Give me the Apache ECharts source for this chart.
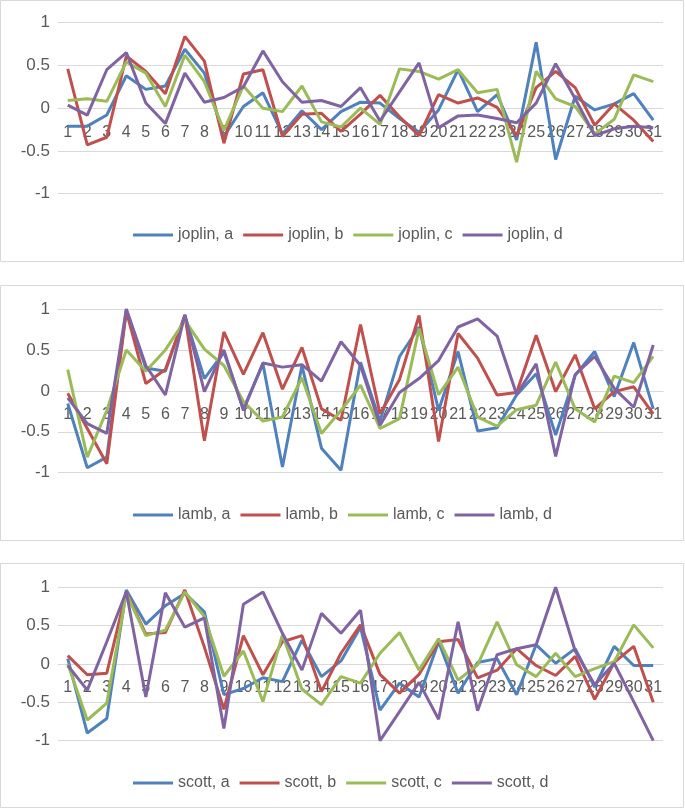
<!DOCTYPE html>
<html>
<head>
<meta charset="utf-8">
<script src="https://cdn.jsdelivr.net/npm/echarts@6/dist/echarts.min.js"></script>
<style>
html,body{margin:0;padding:0;background:#fff;}
#chart{width:685px;height:809px;}
</style>
</head>
<body>
<div id="chart"></div>
<script>
const categories = Array.from({length:31}, (_, i) => String(i + 1));
const yTicks = [-1, -0.5, 0, 0.5, 1];

const joplinA = [-0.21,-0.21,-0.08,0.38,0.22,0.26,0.69,0.41,-0.33,0.02,0.18,-0.30,-0.03,-0.25,-0.04,0.07,0.06,-0.12,-0.28,-0.02,0.45,-0.04,0.16,-0.37,0.77,-0.60,0.14,-0.02,0.05,0.17,-0.14];
const joplinB = [0.46,-0.43,-0.34,0.61,0.43,0.17,0.84,0.55,-0.41,0.40,0.45,-0.33,-0.07,-0.06,-0.27,-0.07,0.15,-0.10,-0.32,0.16,0.06,0.12,0.01,-0.32,0.24,0.43,0.24,-0.20,0.05,-0.14,-0.39];
const joplinC = [0.09,0.11,0.08,0.54,0.41,0.02,0.62,0.31,-0.26,0.26,0.00,-0.04,0.26,-0.16,-0.22,0.00,-0.19,0.46,0.43,0.34,0.45,0.18,0.22,-0.63,0.43,0.11,0.02,-0.30,-0.13,0.39,0.31];
const joplinD = [0.035,-0.08,0.45,0.65,0.06,-0.18,0.41,0.07,0.125,0.25,0.67,0.31,0.07,0.09,0.02,0.24,-0.15,0.19,0.53,-0.23,-0.09,-0.08,-0.12,-0.17,0.06,0.52,0.11,-0.32,-0.24,-0.21,-0.23];

const lambA = [-0.155,-0.94,-0.81,0.99,0.28,0.24,0.92,0.15,0.47,-0.22,0.33,-0.93,0.31,-0.70,-0.97,0.35,-0.37,0.42,0.78,-0.24,0.48,-0.49,-0.45,-0.05,0.21,-0.54,0.19,0.48,-0.07,0.59,-0.22];
const lambB = [-0.03,-0.46,-0.89,0.97,0.09,0.26,0.92,-0.61,0.72,0.20,0.71,0.02,0.53,-0.22,-0.36,0.81,-0.28,0.14,0.92,-0.62,0.70,0.40,-0.05,-0.02,0.68,-0.01,0.44,-0.22,-0.01,0.05,-0.28];
const lambC = [0.26,-0.81,-0.24,0.50,0.24,0.50,0.86,0.51,0.31,-0.13,-0.37,-0.32,0.16,-0.52,-0.24,0.07,-0.46,-0.34,0.76,-0.045,0.29,-0.32,-0.43,-0.23,-0.175,0.35,-0.22,-0.38,0.18,0.10,0.42];
const lambD = [-0.085,-0.40,-0.52,1.00,0.31,-0.05,0.93,-0.01,0.50,-0.24,0.34,0.29,0.32,0.12,0.60,0.31,-0.42,-0.02,0.15,0.37,0.78,0.88,0.67,-0.045,0.33,-0.80,0.20,0.42,0.03,-0.20,0.56];

const scottA = [0.07,-0.90,-0.71,0.965,0.52,0.76,0.92,0.68,-0.40,-0.32,-0.18,-0.23,0.31,-0.165,0.04,0.48,-0.60,-0.25,-0.43,0.29,-0.38,0.02,0.07,-0.40,0.25,0.01,0.20,-0.30,0.23,-0.02,-0.02];
const scottB = [0.11,-0.14,-0.12,0.94,0.39,0.41,0.965,0.22,-0.59,0.37,-0.14,0.29,0.37,-0.36,0.14,0.51,-0.135,-0.38,-0.135,0.29,0.32,-0.18,-0.08,0.20,-0.02,-0.15,0.10,-0.46,0.02,0.23,-0.50];
const scottC = [0.00,-0.73,-0.51,0.92,0.37,0.44,0.94,0.62,-0.16,0.17,-0.49,0.38,-0.33,-0.53,-0.165,-0.25,0.14,0.41,-0.08,0.33,-0.21,-0.01,0.55,-0.01,-0.165,0.14,-0.165,-0.06,0.03,0.51,0.21];
const scottD = [-0.02,-0.34,0.29,0.94,-0.43,0.93,0.48,0.60,-0.84,0.78,0.94,0.40,-0.08,0.66,0.40,0.70,-1.00,-0.62,-0.24,-0.72,0.55,-0.61,0.12,0.20,0.25,1.00,0.17,-0.27,0.01,-0.49,-1.00];

const colors = ['#4F81BD','#C0504D','#9BBB59','#8064A2'];
const FONT = 'Liberation Sans';
const TXT = '#595959';
const GRIDC = '#D9D9D9';

const panels = [
  {name:'joplin', data:[joplinA,joplinB,joplinC,joplinD], top:22.7, height:171, legendTop:222, box:[0.5,0.5,683,261]},
  {name:'lamb',   data:[lambA,lambB,lambC,lambD],       top:309,  height:163.7, legendTop:502, box:[0.5,285.5,683,255]},
  {name:'scott',  data:[scottA,scottB,scottC,scottD],   top:587.3,height:153.4, legendTop:770, box:[0.5,563.5,683,244]}
];
const suffix = ['a','b','c','d'];

const grid=[], xAxis=[], yAxis=[], series=[], legend=[], graphic=[];
panels.forEach((p, pi) => {
  grid.push({left:58, right:22, top:p.top, height:p.height, containLabel:false});
  xAxis.push({
    type:'category', gridIndex:pi, data:categories, boundaryGap:true, position:'bottom',
    offset:-p.height/2,
    axisLine:{show:true, onZero:false, lineStyle:{color:GRIDC, width:1}},
    axisTick:{show:false},
    axisLabel:{interval:0, margin:16, color:TXT, fontFamily:FONT, fontSize:16}
  });
  yAxis.push({
    type:'value', gridIndex:pi, min:yTicks[0], max:yTicks[yTicks.length-1], interval:0.5,
    axisLine:{show:false}, axisTick:{show:false},
    splitLine:{lineStyle:{color:GRIDC, width:1}},
    axisLabel:{margin:8, color:TXT, fontFamily:FONT, fontSize:17}
  });
  const names = [];
  p.data.forEach((arr, si) => {
    const nm = p.name + ', ' + suffix[si];
    names.push(nm);
    series.push({
      type:'line', name:nm, xAxisIndex:pi, yAxisIndex:pi, data:arr,
      symbol:'none', smooth:false, animation:false,
      lineStyle:{color:colors[si], width:3}, itemStyle:{color:colors[si]}
    });
  });
  legend.push({
    data:names, top:p.legendTop, left:128, icon:'rect', itemWidth:40, itemHeight:3,
    itemGap:10, textStyle:{color:TXT, fontFamily:FONT, fontSize:16, width:55}
  });
  graphic.push({type:'rect', shape:{x:p.box[0], y:p.box[1], width:p.box[2], height:p.box[3]},
    style:{fill:'none', stroke:GRIDC, lineWidth:1}, silent:true});
});

const chart = echarts.init(document.getElementById('chart'), null, {renderer:'canvas'});
chart.setOption({animation:false, color:colors, grid, xAxis, yAxis, series, legend, graphic});
</script>
</body>
</html>
